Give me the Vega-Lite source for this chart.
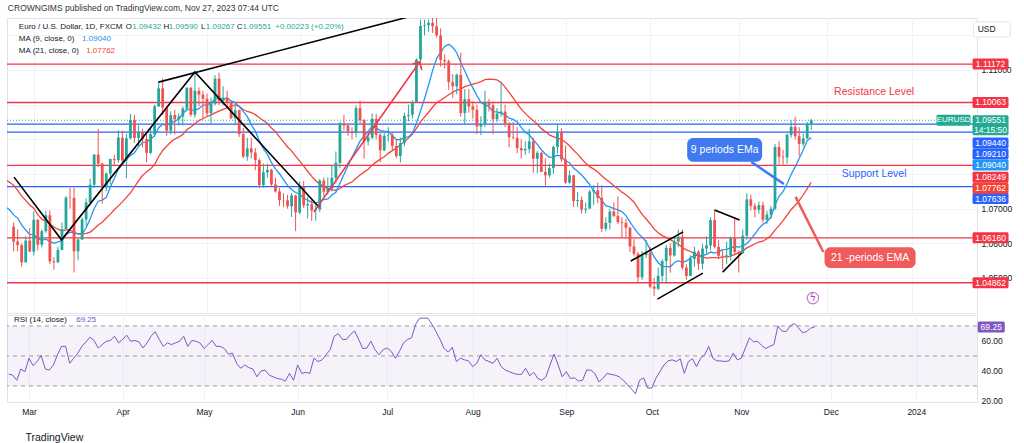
{
  "$schema": "https://vega.github.io/schema/vega-lite/v6.json",
  "description": "EUR/USD daily candles with MA 9 / MA 21, levels and RSI (14)",
  "background": "white",
  "padding": {"left": 5, "top": 4, "right": 0, "bottom": 0},
  "title": {"text": "CROWNGIMS published on TradingView.com, Nov 27, 2023 07:44 UTC", "anchor": "start", "fontSize": 8.5, "fontWeight": "normal", "color": "#333333", "offset": 5, "dx": 2},
  "spacing": 0,
  "resolve": {"scale": {"x": "independent", "y": "independent", "color": "independent"}},
  "datasets": {
    "bars": [
      {"i":-25,"c":1.0915},{"i":-24,"c":1.089},{"i":-23,"c":1.0868},{"i":-22,"c":1.0848},{"i":-21,"c":1.0863},
      {"i":-20,"c":1.099},{"i":-19,"c":1.091},{"i":-18,"c":1.0795},{"i":-17,"c":1.0727},{"i":-16,"c":1.0728},
      {"i":-15,"c":1.0713},{"i":-14,"c":1.0739},{"i":-13,"c":1.0678},{"i":-12,"c":1.0724},{"i":-11,"c":1.0739},
      {"i":-10,"c":1.0689},{"i":-9,"c":1.0674},{"i":-8,"c":1.0695},{"i":-7,"c":1.0686},{"i":-6,"c":1.0648},
      {"i":-5,"o":1.0648,"h":1.066,"l":1.0577,"c":1.0605,"r":37.9},
      {"i":-4,"o":1.0605,"h":1.064,"l":1.0577,"c":1.0595,"r":37.2},
      {"i":-3,"o":1.0595,"h":1.06,"l":1.0533,"c":1.0545,"r":33.8},
      {"i":-2,"o":1.0545,"h":1.062,"l":1.0545,"c":1.0608,"r":41.3},
      {"i":-1,"o":1.0608,"h":1.0645,"l":1.0575,"c":1.0576,"r":39.5},
      {"i":0,"o":1.0576,"h":1.0691,"l":1.0565,"c":1.0668,"r":48.5},
      {"i":1,"o":1.0668,"h":1.067,"l":1.058,"c":1.0596,"r":43.6},
      {"i":2,"o":1.0596,"h":1.064,"l":1.0588,"c":1.0635,"r":46.3},
      {"i":3,"o":1.0635,"h":1.0694,"l":1.063,"c":1.0681,"r":50.3},
      {"i":4,"o":1.0681,"h":1.0695,"l":1.054,"c":1.0548,"r":41.3},
      {"i":5,"o":1.0548,"h":1.056,"l":1.0524,"c":1.0545,"r":40.6},
      {"i":6,"o":1.0545,"h":1.059,"l":1.0543,"c":1.0581,"r":44},
      {"i":7,"o":1.0581,"h":1.066,"l":1.058,"c":1.0641,"r":50.8},
      {"i":8,"o":1.0641,"h":1.0736,"l":1.064,"c":1.0732,"r":56.4},
      {"i":9,"o":1.0732,"h":1.076,"l":1.07,"c":1.0731,"r":56.4},
      {"i":10,"o":1.0731,"h":1.076,"l":1.0516,"c":1.0577,"r":45.1},
      {"i":11,"o":1.0577,"h":1.0613,"l":1.0551,"c":1.0611,"r":48.5},
      {"i":12,"o":1.0611,"h":1.0675,"l":1.061,"c":1.0669,"r":51.9},
      {"i":13,"o":1.0669,"h":1.073,"l":1.065,"c":1.0718,"r":56.4},
      {"i":14,"o":1.0718,"h":1.0786,"l":1.071,"c":1.0769,"r":59.4},
      {"i":15,"o":1.0769,"h":1.0857,"l":1.076,"c":1.0856,"r":62.5},
      {"i":16,"o":1.0856,"h":1.093,"l":1.082,"c":1.083,"r":60.3},
      {"i":17,"o":1.083,"h":1.0832,"l":1.0714,"c":1.0761,"r":55.3},
      {"i":18,"o":1.0761,"h":1.0805,"l":1.075,"c":1.0801,"r":57.6},
      {"i":19,"o":1.0801,"h":1.0845,"l":1.077,"c":1.0843,"r":59.8},
      {"i":20,"o":1.0843,"h":1.0855,"l":1.0822,"c":1.084,"r":60.3},
      {"i":21,"o":1.084,"h":1.0926,"l":1.0833,"c":1.0905,"r":63.2},
      {"i":22,"o":1.0905,"h":1.0925,"l":1.0831,"c":1.0839,"r":58.7},
      {"i":23,"o":1.0839,"h":1.0915,"l":1.0788,"c":1.0903,"r":61},
      {"i":24,"o":1.0903,"h":1.0973,"l":1.09,"c":1.0956,"r":63.9},
      {"i":25,"o":1.0956,"h":1.097,"l":1.089,"c":1.0904,"r":59.8},
      {"i":26,"o":1.0904,"h":1.094,"l":1.088,"c":1.0921,"r":60.3},
      {"i":27,"o":1.0921,"h":1.093,"l":1.0877,"c":1.0901,"r":59.4},
      {"i":28,"o":1.0901,"h":1.0915,"l":1.0834,"c":1.0861,"r":55.3},
      {"i":29,"o":1.0861,"h":1.0932,"l":1.0858,"c":1.0915,"r":58.7},
      {"i":30,"o":1.0915,"h":1.1,"l":1.0908,"c":1.0995,"r":63.2},
      {"i":31,"o":1.0995,"h":1.1068,"l":1.0993,"c":1.1047,"r":66.2},
      {"i":32,"o":1.1047,"h":1.1076,"l":1.097,"c":1.0992,"r":61},
      {"i":33,"o":1.0992,"h":1.0995,"l":1.091,"c":1.0925,"r":56.4},
      {"i":34,"o":1.0925,"h":1.098,"l":1.0914,"c":1.097,"r":58.7},
      {"i":35,"o":1.097,"h":1.0985,"l":1.0914,"c":1.0958,"r":57.6},
      {"i":36,"o":1.0958,"h":1.0975,"l":1.094,"c":1.0966,"r":58.7},
      {"i":37,"o":1.0966,"h":1.0995,"l":1.094,"c":1.0989,"r":59.8},
      {"i":38,"o":1.0989,"h":1.105,"l":1.098,"c":1.1049,"r":63.2},
      {"i":39,"o":1.1049,"h":1.105,"l":1.0965,"c":1.0971,"r":56.4},
      {"i":40,"o":1.0971,"h":1.1095,"l":1.0963,"c":1.104,"r":60.3},
      {"i":41,"o":1.104,"h":1.105,"l":1.0995,"c":1.1029,"r":59.8},
      {"i":42,"o":1.1029,"h":1.104,"l":1.096,"c":1.1017,"r":58.7},
      {"i":43,"o":1.1017,"h":1.1032,"l":1.0965,"c":1.0975,"r":54.9},
      {"i":44,"o":1.0975,"h":1.102,"l":1.0942,"c":1.1003,"r":57.6},
      {"i":45,"o":1.1003,"h":1.1085,"l":1.0998,"c":1.1075,"r":60.3},
      {"i":46,"o":1.1075,"h":1.1092,"l":1.0999,"c":1.1011,"r":56.4},
      {"i":47,"o":1.1011,"h":1.1053,"l":1.0998,"c":1.102,"r":56.4},
      {"i":48,"o":1.102,"h":1.104,"l":1.099,"c":1.1006,"r":54.9},
      {"i":49,"o":1.1006,"h":1.101,"l":1.0958,"c":1.0961,"r":51.2},
      {"i":50,"o":1.0961,"h":1.1,"l":1.094,"c":1.0984,"r":51.9},
      {"i":51,"o":1.0984,"h":1.0986,"l":1.0907,"c":1.0915,"r":45.1},
      {"i":52,"o":1.0915,"h":1.0933,"l":1.0845,"c":1.085,"r":41.8},
      {"i":53,"o":1.085,"h":1.0904,"l":1.0838,"c":1.0874,"r":44},
      {"i":54,"o":1.0874,"h":1.0904,"l":1.0845,"c":1.0862,"r":42.2},
      {"i":55,"o":1.0862,"h":1.0875,"l":1.0811,"c":1.084,"r":41.3},
      {"i":56,"o":1.084,"h":1.0845,"l":1.0759,"c":1.0768,"r":36.1},
      {"i":57,"o":1.0768,"h":1.083,"l":1.076,"c":1.0805,"r":39.9},
      {"i":58,"o":1.0805,"h":1.083,"l":1.079,"c":1.0812,"r":40.6},
      {"i":59,"o":1.0812,"h":1.0815,"l":1.0762,"c":1.077,"r":37.2},
      {"i":60,"o":1.077,"h":1.079,"l":1.0746,"c":1.075,"r":36.1},
      {"i":61,"o":1.075,"h":1.076,"l":1.0708,"c":1.0725,"r":35},
      {"i":62,"o":1.0725,"h":1.0745,"l":1.0704,"c":1.0724,"r":34.5},
      {"i":63,"o":1.0724,"h":1.074,"l":1.07,"c":1.0707,"r":33.2},
      {"i":64,"o":1.0707,"h":1.0745,"l":1.0676,"c":1.0738,"r":38.4},
      {"i":65,"o":1.0738,"h":1.074,"l":1.0635,"c":1.0689,"r":33.8},
      {"i":66,"o":1.0689,"h":1.0778,"l":1.0684,"c":1.0763,"r":44},
      {"i":67,"o":1.0763,"h":1.078,"l":1.0702,"c":1.0709,"r":38.4},
      {"i":68,"o":1.0709,"h":1.0735,"l":1.0672,"c":1.0713,"r":39.1},
      {"i":69,"o":1.0713,"h":1.0725,"l":1.0665,"c":1.0695,"r":38.4},
      {"i":70,"o":1.0695,"h":1.0718,"l":1.0665,"c":1.0698,"r":48.5},
      {"i":71,"o":1.0698,"h":1.0786,"l":1.069,"c":1.0781,"r":46.3},
      {"i":72,"o":1.0781,"h":1.079,"l":1.0735,"c":1.0749,"r":47.4},
      {"i":73,"o":1.0749,"h":1.079,"l":1.074,"c":1.0757,"r":50.8},
      {"i":74,"o":1.0757,"h":1.0823,"l":1.075,"c":1.0789,"r":54.2},
      {"i":75,"o":1.0789,"h":1.0865,"l":1.0772,"c":1.0832,"r":63.2},
      {"i":76,"o":1.0832,"h":1.095,"l":1.0817,"c":1.0946,"r":64.8},
      {"i":77,"o":1.0946,"h":1.097,"l":1.0925,"c":1.094,"r":61},
      {"i":78,"o":1.094,"h":1.0945,"l":1.091,"c":1.0923,"r":61},
      {"i":79,"o":1.0923,"h":1.0935,"l":1.09,"c":1.0919,"r":64.4},
      {"i":80,"o":1.0919,"h":1.0998,"l":1.0905,"c":1.099,"r":66.6},
      {"i":81,"o":1.099,"h":1.1012,"l":1.0945,"c":1.0956,"r":61},
      {"i":82,"o":1.0956,"h":1.0958,"l":1.0844,"c":1.0894,"r":54.9},
      {"i":83,"o":1.0894,"h":1.0918,"l":1.0882,"c":1.0905,"r":55.3},
      {"i":84,"o":1.0905,"h":1.0975,"l":1.09,"c":1.0959,"r":59.8},
      {"i":85,"o":1.0959,"h":1.0973,"l":1.09,"c":1.0913,"r":54.2},
      {"i":86,"o":1.0913,"h":1.0918,"l":1.0834,"c":1.0868,"r":50.8},
      {"i":87,"o":1.0868,"h":1.0918,"l":1.0866,"c":1.091,"r":54.2},
      {"i":88,"o":1.091,"h":1.0935,"l":1.0893,"c":1.0912,"r":55.3},
      {"i":89,"o":1.0912,"h":1.092,"l":1.087,"c":1.0881,"r":53},
      {"i":90,"o":1.0881,"h":1.09,"l":1.0845,"c":1.0852,"r":48.5},
      {"i":91,"o":1.0852,"h":1.0905,"l":1.0833,"c":1.0889,"r":53},
      {"i":92,"o":1.0889,"h":1.0977,"l":1.088,"c":1.0968,"r":58.7},
      {"i":93,"o":1.0968,"h":1.1,"l":1.0952,"c":1.0971,"r":61},
      {"i":94,"o":1.0971,"h":1.1012,"l":1.096,"c":1.1008,"r":62.1},
      {"i":95,"o":1.1008,"h":1.1133,"l":1.1005,"c":1.113,"r":71.1},
      {"i":96,"o":1.113,"h":1.1245,"l":1.112,"c":1.1227,"r":75.2},
      {"i":97,"o":1.1227,"h":1.1245,"l":1.12,"c":1.1229,"r":75.2},
      {"i":98,"o":1.1229,"h":1.1245,"l":1.121,"c":1.1236,"r":75.2},
      {"i":99,"o":1.1236,"h":1.1276,"l":1.1207,"c":1.1226,"r":71.1},
      {"i":100,"o":1.1226,"h":1.125,"l":1.1194,"c":1.12,"r":66.2},
      {"i":101,"o":1.12,"h":1.122,"l":1.111,"c":1.1129,"r":61},
      {"i":102,"o":1.1129,"h":1.1145,"l":1.1105,"c":1.1125,"r":54.9},
      {"i":103,"o":1.1125,"h":1.113,"l":1.1043,"c":1.1065,"r":52.6},
      {"i":104,"o":1.1065,"h":1.1088,"l":1.102,"c":1.1053,"r":55.8},
      {"i":105,"o":1.1053,"h":1.109,"l":1.103,"c":1.1086,"r":46.3},
      {"i":106,"o":1.1086,"h":1.115,"l":1.0965,"c":1.0976,"r":48.5},
      {"i":107,"o":1.0976,"h":1.1045,"l":1.0943,"c":1.1016,"r":47.4},
      {"i":108,"o":1.1016,"h":1.1045,"l":1.0977,"c":1.0995,"r":46.7},
      {"i":109,"o":1.0995,"h":1.101,"l":1.096,"c":1.0985,"r":42.9},
      {"i":110,"o":1.0985,"h":1.1,"l":1.0915,"c":1.0937,"r":45.1},
      {"i":111,"o":1.0937,"h":1.0967,"l":1.0912,"c":1.0945,"r":50.8},
      {"i":112,"o":1.0945,"h":1.104,"l":1.0935,"c":1.1007,"r":47.4},
      {"i":113,"o":1.1007,"h":1.1017,"l":1.098,"c":1.0998,"r":46.3},
      {"i":114,"o":1.0998,"h":1.1005,"l":1.0915,"c":1.0958,"r":45.1},
      {"i":115,"o":1.0958,"h":1.099,"l":1.095,"c":1.0974,"r":48.5},
      {"i":116,"o":1.0974,"h":1.1064,"l":1.0965,"c":1.098,"r":42.9},
      {"i":117,"o":1.098,"h":1.1,"l":1.0935,"c":1.0946,"r":40.6},
      {"i":118,"o":1.0946,"h":1.095,"l":1.0877,"c":1.0906,"r":39.5},
      {"i":119,"o":1.0906,"h":1.095,"l":1.09,"c":1.0904,"r":38.4},
      {"i":120,"o":1.0904,"h":1.0935,"l":1.086,"c":1.0875,"r":37.7},
      {"i":121,"o":1.0875,"h":1.09,"l":1.0845,"c":1.0868,"r":37.7},
      {"i":122,"o":1.0868,"h":1.0895,"l":1.0855,"c":1.0872,"r":41.8},
      {"i":123,"o":1.0872,"h":1.093,"l":1.086,"c":1.0894,"r":36.8},
      {"i":124,"o":1.0894,"h":1.0905,"l":1.0803,"c":1.0844,"r":39.1},
      {"i":125,"o":1.0844,"h":1.0866,"l":1.0802,"c":1.0861,"r":35},
      {"i":126,"o":1.0861,"h":1.0864,"l":1.0805,"c":1.0806,"r":33.8},
      {"i":127,"o":1.0806,"h":1.0845,"l":1.0766,"c":1.0796,"r":36.1},
      {"i":128,"o":1.0796,"h":1.083,"l":1.079,"c":1.0817,"r":44},
      {"i":129,"o":1.0817,"h":1.0882,"l":1.08,"c":1.0878,"r":51.2},
      {"i":130,"o":1.0878,"h":1.0945,"l":1.086,"c":1.0921,"r":44},
      {"i":131,"o":1.0921,"h":1.0932,"l":1.0835,"c":1.0842,"r":36.1},
      {"i":132,"o":1.0842,"h":1.0882,"l":1.0772,"c":1.0775,"r":39.5},
      {"i":133,"o":1.0775,"h":1.081,"l":1.0772,"c":1.0796,"r":35},
      {"i":134,"o":1.0796,"h":1.0797,"l":1.0705,"c":1.0722,"r":35.4},
      {"i":135,"o":1.0722,"h":1.0748,"l":1.0705,"c":1.0725,"r":33.2},
      {"i":136,"o":1.0725,"h":1.0735,"l":1.0686,"c":1.0697,"r":33.8},
      {"i":137,"o":1.0697,"h":1.0718,"l":1.0686,"c":1.07,"r":40.6},
      {"i":138,"o":1.07,"h":1.0755,"l":1.07,"c":1.0749,"r":40.6},
      {"i":139,"o":1.0749,"h":1.0767,"l":1.071,"c":1.0753,"r":38.4},
      {"i":140,"o":1.0753,"h":1.0775,"l":1.0716,"c":1.0731,"r":32.7},
      {"i":141,"o":1.0731,"h":1.0768,"l":1.0632,"c":1.0642,"r":35},
      {"i":142,"o":1.0642,"h":1.0675,"l":1.0635,"c":1.0659,"r":38.4},
      {"i":143,"o":1.0659,"h":1.07,"l":1.064,"c":1.0692,"r":37.7},
      {"i":144,"o":1.0692,"h":1.0718,"l":1.0675,"c":1.0679,"r":37.2},
      {"i":145,"o":1.0679,"h":1.0736,"l":1.0655,"c":1.0661,"r":36.1},
      {"i":146,"o":1.0661,"h":1.0675,"l":1.0617,"c":1.0659,"r":33.8},
      {"i":147,"o":1.0659,"h":1.067,"l":1.0615,"c":1.0645,"r":30.9},
      {"i":148,"o":1.0645,"h":1.0648,"l":1.0575,"c":1.0591,"r":28},
      {"i":149,"o":1.0591,"h":1.0612,"l":1.0562,"c":1.057,"r":24.8},
      {"i":150,"o":1.057,"h":1.0575,"l":1.0488,"c":1.0502,"r":33.8},
      {"i":151,"o":1.0502,"h":1.0577,"l":1.0495,"c":1.0566,"r":35.4},
      {"i":152,"o":1.0566,"h":1.061,"l":1.0558,"c":1.0573,"r":28.6},
      {"i":153,"o":1.0573,"h":1.059,"l":1.047,"c":1.0475,"r":28.6},
      {"i":154,"o":1.0475,"h":1.05,"l":1.0448,"c":1.0469,"r":35},
      {"i":155,"o":1.0469,"h":1.053,"l":1.0465,"c":1.0506,"r":39.5},
      {"i":156,"o":1.0506,"h":1.0555,"l":1.049,"c":1.0549,"r":44},
      {"i":157,"o":1.0549,"h":1.0595,"l":1.0483,"c":1.0587,"r":46.7},
      {"i":158,"o":1.0587,"h":1.06,"l":1.0515,"c":1.0565,"r":47.4},
      {"i":159,"o":1.0565,"h":1.062,"l":1.0562,"c":1.0605,"r":46.3},
      {"i":160,"o":1.0605,"h":1.064,"l":1.059,"c":1.0619,"r":48.1},
      {"i":161,"o":1.0619,"h":1.064,"l":1.0525,"c":1.053,"r":38.4},
      {"i":162,"o":1.053,"h":1.054,"l":1.0495,"c":1.0506,"r":46.3},
      {"i":163,"o":1.0506,"h":1.0565,"l":1.0505,"c":1.0555,"r":48.1},
      {"i":164,"o":1.0555,"h":1.059,"l":1.0532,"c":1.0576,"r":42.9},
      {"i":165,"o":1.0576,"h":1.058,"l":1.0523,"c":1.0541,"r":48.5},
      {"i":166,"o":1.0541,"h":1.0598,"l":1.0525,"c":1.0585,"r":50.8},
      {"i":167,"o":1.0585,"h":1.062,"l":1.057,"c":1.0594,"r":56.4},
      {"i":168,"o":1.0594,"h":1.0675,"l":1.058,"c":1.0667,"r":48.5},
      {"i":169,"o":1.0667,"h":1.0695,"l":1.0585,"c":1.059,"r":46.7},
      {"i":170,"o":1.059,"h":1.061,"l":1.0555,"c":1.0564,"r":46.7},
      {"i":171,"o":1.0564,"h":1.058,"l":1.0525,"c":1.0562,"r":46.3},
      {"i":172,"o":1.0562,"h":1.0605,"l":1.054,"c":1.0565,"r":46.7},
      {"i":173,"o":1.0565,"h":1.062,"l":1.055,"c":1.0615,"r":51.9},
      {"i":174,"o":1.0615,"h":1.0675,"l":1.0565,"c":1.0575,"r":47.4},
      {"i":175,"o":1.0575,"h":1.058,"l":1.0516,"c":1.0571,"r":48.5},
      {"i":176,"o":1.0571,"h":1.064,"l":1.057,"c":1.0622,"r":55.3},
      {"i":177,"o":1.0622,"h":1.0745,"l":1.061,"c":1.0727,"r":62.1},
      {"i":178,"o":1.0727,"h":1.074,"l":1.0695,"c":1.0708,"r":59.4},
      {"i":179,"o":1.0708,"h":1.0716,"l":1.0675,"c":1.0697,"r":59.8},
      {"i":180,"o":1.0697,"h":1.072,"l":1.0685,"c":1.071,"r":57},
      {"i":181,"o":1.071,"h":1.072,"l":1.066,"c":1.0668,"r":54.9},
      {"i":182,"o":1.0668,"h":1.0694,"l":1.0656,"c":1.0683,"r":56.4},
      {"i":183,"o":1.0683,"h":1.0708,"l":1.067,"c":1.07,"r":57.6},
      {"i":184,"o":1.07,"h":1.0887,"l":1.0695,"c":1.0878,"r":70},
      {"i":185,"o":1.0878,"h":1.0895,"l":1.0828,"c":1.085,"r":66.6},
      {"i":186,"o":1.085,"h":1.087,"l":1.0827,"c":1.0848,"r":66.2},
      {"i":187,"o":1.0848,"h":1.0917,"l":1.083,"c":1.0913,"r":70},
      {"i":188,"o":1.0913,"h":1.0955,"l":1.0905,"c":1.0936,"r":71.6},
      {"i":189,"o":1.0936,"h":1.0965,"l":1.09,"c":1.0909,"r":68.9},
      {"i":190,"o":1.0909,"h":1.0935,"l":1.0852,"c":1.0887,"r":65.5},
      {"i":191,"o":1.0887,"h":1.0917,"l":1.088,"c":1.0903,"r":66.2},
      {"i":192,"o":1.0903,"h":1.095,"l":1.09,"c":1.0943,"r":68.5},
      {"i":193,"o":1.0943,"h":1.0959,"l":1.0927,"c":1.0955,"r":69.25}
    ],
    "levels": [
      {"v":1.11172,"k":"r"},{"v":1.10063,"k":"r"},{"v":1.08249,"k":"r"},{"v":1.0616,"k":"r"},{"v":1.04862,"k":"r"},
      {"v":1.0944,"k":"b"},{"v":1.0921,"k":"b"},{"v":1.07636,"k":"b"}
    ],
    "tags": [
      {"v":1.11172,"t":"1.11172","k":"r"},{"v":1.10063,"t":"1.10063","k":"r"},
      {"v":1.0944,"t":"1.09440","k":"b"},{"v":1.0921,"t":"1.09210","k":"b"},
      {"v":1.0904,"t":"1.09040","k":"m9"},{"v":1.08249,"t":"1.08249","k":"r"},
      {"v":1.07762,"t":"1.07762","k":"m21"},{"v":1.07636,"t":"1.07636","k":"b"},
      {"v":1.0616,"t":"1.06160","k":"r"},{"v":1.04862,"t":"1.04862","k":"r"}
    ],
    "trend": [
      {"g":"A","n":0,"i":-4.9,"p":1.0791},{"g":"A","n":1,"i":6.9,"p":1.061},{"g":"A","n":2,"i":40.0,"p":1.1094},{"g":"A","n":3,"i":70.8,"p":1.0705},
      {"g":"B","n":0,"i":31.0,"p":1.1065},{"g":"B","n":1,"i":96.6,"p":1.1264},
      {"g":"C","n":0,"i":148.2,"p":1.0549},{"g":"C","n":1,"i":161.2,"p":1.0633},
      {"g":"D","n":0,"i":154.8,"p":1.0439},{"g":"D","n":1,"i":166.1,"p":1.0514},
      {"g":"E","n":0,"i":169.0,"p":1.0696},{"g":"E","n":1,"i":175.2,"p":1.0667},
      {"g":"F","n":0,"i":171.0,"p":1.0517},{"g":"F","n":1,"i":175.7,"p":1.0572},
      {"g":"R","n":0,"i":69.5,"p":1.069},{"g":"R","n":1,"i":95.8,"p":1.1123},
      {"g":"RH","n":0,"i":94.0,"p":1.1117},{"g":"RH","n":1,"i":95.8,"p":1.1123},{"g":"RH","n":2,"i":96.3,"p":1.11}
    ],
    "notes": [
      {"t":"9 periods EMa","k":"nb","i1":162.2,"i2":180.8,"p1":1.0904,"p2":1.0835,"i":171.5,"p":1.08695},
      {"t":"21 -periods EMA","k":"nr","i1":196.3,"i2":218.9,"p1":1.0589,"p2":1.0529,"i":207.6,"p":1.0559}
    ],
    "tails": [
      {"g":"nb","n":0,"i":178.1,"p":1.0835},{"g":"nb","n":1,"i":186.2,"p":1.0771},
      {"g":"nr","n":0,"i":189.1,"p":1.0734},{"g":"nr","n":1,"i":196.0,"p":1.0575}
    ],
    "marks": [
      {"t":"Resistance Level","k":"r","i":208.6,"p":1.1037},
      {"t":"Support Level","k":"b","i":208.6,"p":1.08}
    ],
    "hdr": [
      {"t":"Euro / U.S. Dollar, 1D, FXCM","k":"d","i":-3.7,"p":1.1224},
      {"t":"O","k":"d","i":22.85,"p":1.1224},{"t":"1.09432","k":"g","i":24.45,"p":1.1224},
      {"t":"H","k":"d","i":32.19,"p":1.1224},{"t":"1.09590","k":"g","i":33.54,"p":1.1224},
      {"t":"L","k":"d","i":41.52,"p":1.1224},{"t":"1.09267","k":"g","i":42.7,"p":1.1224},
      {"t":"C","k":"d","i":50.37,"p":1.1224},{"t":"1.09551","k":"g","i":51.79,"p":1.1224},
      {"t":"+0.00223 (+0.20%)","k":"g","i":59.95,"p":1.1224},
      {"t":"MA (9, close, 0)","k":"d","i":-3.7,"p":1.11894},{"t":"1.09040","k":"m9","i":12.0,"p":1.11894},
      {"t":"MA (21, close, 0)","k":"d","i":-3.7,"p":1.11548},{"t":"1.07762","k":"m21","i":13.0,"p":1.11548}
    ],
    "rsilv": [{"v":70},{"v":50},{"v":30}],
    "rsihdr": [
      {"t":"RSI (14, close)","k":"d","i":-3.7,"r":74},
      {"t":"69.25","k":"p","i":11.6,"r":74}
    ]
  },
  "vconcat": [
    {
      "width": 970,
      "height": 295,
      "layer": [
        {
          "data": {"name": "levels"},
          "mark": {"type": "rule", "strokeWidth": 1.3},
          "encoding": {
            "y": {"field": "v", "type": "quantitative", "scale": {"domain": [1.0399, 1.125], "nice": false, "zero": false},
                  "axis": {"orient": "right", "values": [1.05, 1.06, 1.07, 1.08, 1.09, 1.1, 1.11, 1.12],
                           "labelExpr": "indexof([1.05, 1.06, 1.07, 1.11], datum.value) >= 0 ? format(datum.value, '.5f') : ''",
                           "title": null, "ticks": false, "domain": false, "labelPadding": 4, "grid": true}},
            "color": {"field": "k", "type": "nominal", "legend": null,
                      "scale": {"domain": ["r", "b", "m9", "m21", "g", "d", "nb", "nr"], "range": ["#f23645", "#2962ff", "#2196f3", "#f44336", "#22ab94", "#131722", "#4079f0", "#f05b5b"]}}
          }
        },
        {
          "data": {"values": [{"v": 1.09551}]},
          "mark": {"type": "rule", "color": "#22ab94", "strokeDash": [1, 2], "strokeWidth": 1},
          "encoding": {"y": {"field": "v", "type": "quantitative"}}
        },
        {
          "data": {"name": "bars"},
          "transform": [{"window": [{"op": "mean", "field": "c", "as": "ma21"}], "frame": [-20, 0], "sort": [{"field": "i"}]}],
          "mark": {"type": "line", "color": "#f44336", "strokeWidth": 1.3, "clip": true},
          "encoding": {
            "x": {"field": "i", "type": "quantitative", "scale": {"domain": [-5.4, 232.9], "nice": false, "zero": false},
                  "axis": {"values": [0, 23, 43, 66, 88, 109, 132, 153, 175, 197, 218], "labels": false, "ticks": false, "domain": false, "grid": true, "title": null}},
            "y": {"field": "ma21", "type": "quantitative"}
          }
        },
        {
          "data": {"name": "bars"},
          "transform": [{"window": [{"op": "mean", "field": "c", "as": "ma9"}], "frame": [-8, 0], "sort": [{"field": "i"}]}],
          "mark": {"type": "line", "color": "#2196f3", "strokeWidth": 1.3, "clip": true},
          "encoding": {
            "x": {"field": "i", "type": "quantitative"},
            "y": {"field": "ma9", "type": "quantitative"}
          }
        },
        {
          "data": {"name": "bars"},
          "transform": [{"filter": "isValid(datum.o)"}],
          "mark": {"type": "rule", "strokeWidth": 1, "clip": true},
          "encoding": {
            "x": {"field": "i", "type": "quantitative"},
            "y": {"field": "l", "type": "quantitative"},
            "y2": {"field": "h"},
            "color": {"condition": {"test": "datum.c >= datum.o", "value": "#26a69a"}, "value": "#ef5350"}
          }
        },
        {
          "data": {"name": "bars"},
          "transform": [{"filter": "isValid(datum.o)"}],
          "mark": {"type": "bar", "size": 2.8, "clip": true},
          "encoding": {
            "x": {"field": "i", "type": "quantitative"},
            "y": {"field": "o", "type": "quantitative"},
            "y2": {"field": "c"},
            "color": {"condition": {"test": "datum.c >= datum.o", "value": "#26a69a"}, "value": "#ef5350"}
          }
        },
        {
          "data": {"name": "trend"},
          "mark": {"type": "line", "strokeWidth": 1.6, "clip": true},
          "encoding": {
            "x": {"field": "i", "type": "quantitative"},
            "y": {"field": "p", "type": "quantitative"},
            "detail": {"field": "g"},
            "order": {"field": "n"},
            "color": {"condition": {"test": "datum.g == 'R' || datum.g == 'RH'", "value": "#f23645"}, "value": "#000000"}
          }
        },
        {
          "data": {"name": "tails"},
          "mark": {"type": "line", "strokeWidth": 2.5},
          "encoding": {
            "x": {"field": "i", "type": "quantitative"},
            "y": {"field": "p", "type": "quantitative"},
            "detail": {"field": "g"},
            "order": {"field": "n"},
            "color": {"field": "g", "type": "nominal", "legend": null}
          }
        },
        {
          "data": {"name": "notes"},
          "mark": {"type": "rect", "cornerRadius": 6},
          "encoding": {
            "x": {"field": "i1", "type": "quantitative"},
            "x2": {"field": "i2"},
            "y": {"field": "p1", "type": "quantitative"},
            "y2": {"field": "p2"},
            "color": {"field": "k", "type": "nominal", "legend": null}
          }
        },
        {
          "data": {"name": "notes"},
          "mark": {"type": "text", "color": "white", "fontSize": 10.5, "align": "center", "baseline": "middle"},
          "encoding": {
            "x": {"field": "i", "type": "quantitative"},
            "y": {"field": "p", "type": "quantitative"},
            "text": {"field": "t"}
          }
        },
        {
          "data": {"name": "marks"},
          "mark": {"type": "text", "fontSize": 10.5, "align": "center", "baseline": "middle"},
          "encoding": {
            "x": {"field": "i", "type": "quantitative"},
            "y": {"field": "p", "type": "quantitative"},
            "text": {"field": "t"},
            "color": {"field": "k", "type": "nominal", "legend": null}
          }
        },
        {
          "data": {"values": [{"i": 193.4, "p": 1.0442}]},
          "mark": {"type": "point", "shape": "circle", "size": 130, "filled": false, "color": "#ab47bc", "strokeWidth": 1.2},
          "encoding": {"x": {"field": "i", "type": "quantitative"}, "y": {"field": "p", "type": "quantitative"}}
        },
        {
          "data": {"values": [{"i": 193.4, "p": 1.0442}]},
          "mark": {"type": "text", "text": "ϟ", "color": "#ab47bc", "fontSize": 10, "font": "DejaVu Sans", "align": "center", "baseline": "middle"},
          "encoding": {"x": {"field": "i", "type": "quantitative"}, "y": {"field": "p", "type": "quantitative"}}
        },
        {
          "data": {"name": "hdr"},
          "mark": {"type": "text", "fontSize": 8, "align": "left", "baseline": "middle"},
          "encoding": {
            "x": {"field": "i", "type": "quantitative"},
            "y": {"field": "p", "type": "quantitative"},
            "text": {"field": "t"},
            "color": {"field": "k", "type": "nominal", "legend": null}
          }
        },
        {
          "data": {"values": [{"i": 228.3, "p": 1.09551, "t": "EURUSD"}]},
          "mark": {"type": "tick", "orient": "horizontal", "size": 34, "thickness": 11, "color": "#22ab94", "opacity": 1, "cornerRadius": 1.5, "clip": false},
          "encoding": {"x": {"field": "i", "type": "quantitative"}, "y": {"field": "p", "type": "quantitative"}}
        },
        {
          "data": {"values": [{"i": 228.3, "p": 1.09551, "t": "EURUSD"}]},
          "mark": {"type": "text", "color": "white", "fontSize": 8, "align": "center", "baseline": "middle"},
          "encoding": {"x": {"field": "i", "type": "quantitative"}, "y": {"field": "p", "type": "quantitative"}, "text": {"field": "t"}}
        },
        {
          "data": {"values": [{"i": 237.5, "p": 1.09551}]},
          "mark": {"type": "tick", "orient": "horizontal", "size": 36, "thickness": 20, "yOffset": 5, "color": "#22ab94", "opacity": 1, "cornerRadius": 1.5, "clip": false},
          "encoding": {"x": {"field": "i", "type": "quantitative"}, "y": {"field": "p", "type": "quantitative"}}
        },
        {
          "data": {"values": [{"i": 237.5, "p": 1.09551, "t": "1.09551", "u": "14:15:50"}]},
          "mark": {"type": "text", "color": "white", "fontSize": 8.5, "align": "center", "baseline": "middle", "clip": false},
          "encoding": {"x": {"field": "i", "type": "quantitative"}, "y": {"field": "p", "type": "quantitative"}, "text": {"field": "t"}}
        },
        {
          "data": {"values": [{"i": 237.5, "p": 1.09551, "t": "1.09551", "u": "14:15:50"}]},
          "mark": {"type": "text", "color": "white", "fontSize": 8.5, "align": "center", "baseline": "middle", "yOffset": 10, "clip": false},
          "encoding": {"x": {"field": "i", "type": "quantitative"}, "y": {"field": "p", "type": "quantitative"}, "text": {"field": "u"}}
        },
        {
          "data": {"name": "tags"},
          "transform": [{"filter": "datum.v == 1.11172 || datum.v == 1.10063 || datum.v == 1.0616 || datum.v == 1.04862"}],
          "layer": [
            {"mark": {"type": "tick", "orient": "horizontal", "size": 36, "thickness": 11, "opacity": 1, "cornerRadius": 1.5, "clip": false},
             "encoding": {"x": {"datum": 237.5, "type": "quantitative"}, "y": {"field": "v", "type": "quantitative"}, "color": {"field": "k", "type": "nominal", "legend": null}}},
            {"mark": {"type": "text", "color": "white", "fontSize": 8.5, "align": "center", "baseline": "middle", "clip": false},
             "encoding": {"x": {"datum": 237.5, "type": "quantitative"}, "y": {"field": "v", "type": "quantitative"}, "text": {"field": "t"}}}
          ]
        },
        {
          "data": {"name": "tags"},
          "transform": [{"filter": "datum.v == 1.0944"}],
          "layer": [
            {"mark": {"type": "tick", "orient": "horizontal", "size": 36, "thickness": 11, "yOffset": 19, "opacity": 1, "cornerRadius": 1.5, "clip": false},
             "encoding": {"x": {"datum": 237.5, "type": "quantitative"}, "y": {"field": "v", "type": "quantitative"}, "color": {"field": "k", "type": "nominal", "legend": null}}},
            {"mark": {"type": "text", "color": "white", "fontSize": 8.5, "align": "center", "baseline": "middle", "yOffset": 19, "clip": false},
             "encoding": {"x": {"datum": 237.5, "type": "quantitative"}, "y": {"field": "v", "type": "quantitative"}, "text": {"field": "t"}}}
          ]
        },
        {
          "data": {"name": "tags"},
          "transform": [{"filter": "datum.v == 1.0921"}],
          "layer": [
            {"mark": {"type": "tick", "orient": "horizontal", "size": 36, "thickness": 11, "yOffset": 22, "opacity": 1, "cornerRadius": 1.5, "clip": false},
             "encoding": {"x": {"datum": 237.5, "type": "quantitative"}, "y": {"field": "v", "type": "quantitative"}, "color": {"field": "k", "type": "nominal", "legend": null}}},
            {"mark": {"type": "text", "color": "white", "fontSize": 8.5, "align": "center", "baseline": "middle", "yOffset": 22, "clip": false},
             "encoding": {"x": {"datum": 237.5, "type": "quantitative"}, "y": {"field": "v", "type": "quantitative"}, "text": {"field": "t"}}}
          ]
        },
        {
          "data": {"name": "tags"},
          "transform": [{"filter": "datum.v == 1.0904"}],
          "layer": [
            {"mark": {"type": "tick", "orient": "horizontal", "size": 36, "thickness": 11, "yOffset": 27, "opacity": 1, "cornerRadius": 1.5, "clip": false},
             "encoding": {"x": {"datum": 237.5, "type": "quantitative"}, "y": {"field": "v", "type": "quantitative"}, "color": {"field": "k", "type": "nominal", "legend": null}}},
            {"mark": {"type": "text", "color": "white", "fontSize": 8.5, "align": "center", "baseline": "middle", "yOffset": 27, "clip": false},
             "encoding": {"x": {"datum": 237.5, "type": "quantitative"}, "y": {"field": "v", "type": "quantitative"}, "text": {"field": "t"}}}
          ]
        },
        {
          "data": {"name": "tags"},
          "transform": [{"filter": "datum.v == 1.08249 || datum.v == 1.07636"}],
          "layer": [
            {"mark": {"type": "tick", "orient": "horizontal", "size": 36, "thickness": 11, "yOffset": 12, "opacity": 1, "cornerRadius": 1.5, "clip": false},
             "encoding": {"x": {"datum": 237.5, "type": "quantitative"}, "y": {"field": "v", "type": "quantitative"}, "color": {"field": "k", "type": "nominal", "legend": null}}},
            {"mark": {"type": "text", "color": "white", "fontSize": 8.5, "align": "center", "baseline": "middle", "yOffset": 12, "clip": false},
             "encoding": {"x": {"datum": 237.5, "type": "quantitative"}, "y": {"field": "v", "type": "quantitative"}, "text": {"field": "t"}}}
          ]
        },
        {
          "data": {"name": "tags"},
          "transform": [{"filter": "datum.v == 1.07762"}],
          "layer": [
            {"mark": {"type": "tick", "orient": "horizontal", "size": 36, "thickness": 11, "yOffset": 6, "opacity": 1, "cornerRadius": 1.5, "clip": false},
             "encoding": {"x": {"datum": 237.5, "type": "quantitative"}, "y": {"field": "v", "type": "quantitative"}, "color": {"field": "k", "type": "nominal", "legend": null}}},
            {"mark": {"type": "text", "color": "white", "fontSize": 8.5, "align": "center", "baseline": "middle", "yOffset": 6, "clip": false},
             "encoding": {"x": {"datum": 237.5, "type": "quantitative"}, "y": {"field": "v", "type": "quantitative"}, "text": {"field": "t"}}}
          ]
        },
        {
          "data": {"values": [{"t": "USD"}]},
          "mark": {"type": "rect", "fill": "white", "stroke": "#e0e3eb", "strokeWidth": 1, "cornerRadius": 2, "clip": false},
          "encoding": {
            "x": {"datum": 233.3, "type": "quantitative"}, "x2": {"datum": 242.4},
            "y": {"datum": 1.1239, "type": "quantitative"}, "y2": {"datum": 1.1195}
          }
        },
        {
          "data": {"values": [{"t": "USD"}]},
          "mark": {"type": "text", "fontSize": 8.5, "color": "#131722", "align": "left", "baseline": "middle", "clip": false},
          "encoding": {
            "x": {"datum": 234.3, "type": "quantitative"},
            "y": {"datum": 1.1217, "type": "quantitative"},
            "text": {"field": "t"}
          }
        }
      ]
    },
    {
      "width": 970,
      "height": 87,
      "layer": [
        {
          "data": {"values": [{"lo": 30, "hi": 70}]},
          "mark": {"type": "rect", "color": "#7e57c2", "opacity": 0.08},
          "encoding": {
            "x": {"datum": -5.4, "type": "quantitative", "scale": {"domain": [-5.4, 232.9], "nice": false, "zero": false}},
            "x2": {"datum": 232.9},
            "y": {"field": "hi", "type": "quantitative", "scale": {"domain": [19.3, 77.3], "nice": false, "zero": false},
                  "axis": {"orient": "right", "values": [20, 40, 60, 80], "format": ".2f", "title": null, "ticks": false, "domain": false, "grid": false, "labelPadding": 4}},
            "y2": {"field": "lo"}
          }
        },
        {
          "data": {"name": "rsilv"},
          "mark": {"type": "rule", "color": "#9598a1", "strokeDash": [4, 4], "strokeWidth": 1},
          "encoding": {"y": {"field": "v", "type": "quantitative"}}
        },
        {
          "data": {"name": "bars"},
          "transform": [{"filter": "isValid(datum.r)"}],
          "mark": {"type": "line", "color": "#7e57c2", "strokeWidth": 1},
          "encoding": {
            "x": {"field": "i", "type": "quantitative",
                  "axis": {"values": [0, 23, 43, 66, 88, 109, 132, 153, 175, 197, 218],
                           "labelExpr": "['Mar','Apr','May','Jun','Jul','Aug','Sep','Oct','Nov','Dec','2024'][indexof([0,23,43,66,88,109,132,153,175,197,218], datum.value)]",
                           "grid": true, "ticks": false, "domain": false, "labelPadding": 5,
                           "title": "TradingView", "titleFontSize": 10.5, "titleFontWeight": "normal", "titleColor": "#131722",
                           "titleX": 18, "titleY": 35, "titleAlign": "left", "titleBaseline": "middle"}},
            "y": {"field": "r", "type": "quantitative"}
          }
        },
        {
          "data": {"name": "rsihdr"},
          "mark": {"type": "text", "fontSize": 8, "align": "left", "baseline": "middle"},
          "encoding": {
            "x": {"field": "i", "type": "quantitative"},
            "y": {"field": "r", "type": "quantitative"},
            "text": {"field": "t"},
            "color": {"field": "k", "type": "nominal", "legend": null, "scale": {"domain": ["d", "p"], "range": ["#131722", "#7e57c2"]}}
          }
        },
        {
          "data": {"values": [{"i": 236.4, "r": 69.25, "t": "69.25"}]},
          "layer": [
            {"mark": {"type": "tick", "orient": "horizontal", "size": 27, "thickness": 11, "color": "#7e57c2", "opacity": 1, "cornerRadius": 1.5, "clip": false},
             "encoding": {"x": {"field": "i", "type": "quantitative"}, "y": {"field": "r", "type": "quantitative"}}},
            {"mark": {"type": "text", "color": "white", "fontSize": 8.5, "align": "center", "baseline": "middle", "clip": false},
             "encoding": {"x": {"field": "i", "type": "quantitative"}, "y": {"field": "r", "type": "quantitative"}, "text": {"field": "t"}}}
          ]
        }
      ]
    }
  ],
  "config": {
    "font": "Liberation Sans",
    "view": {"stroke": "#e0e3eb"},
    "axis": {"labelFont": "Liberation Sans", "labelFontSize": 8.5, "labelColor": "#131722", "titleFont": "Liberation Sans", "gridColor": "#f0f3fa", "gridWidth": 1},
    "text": {"font": "Liberation Sans"},
    "title": {"font": "Liberation Sans"}
  }
}
